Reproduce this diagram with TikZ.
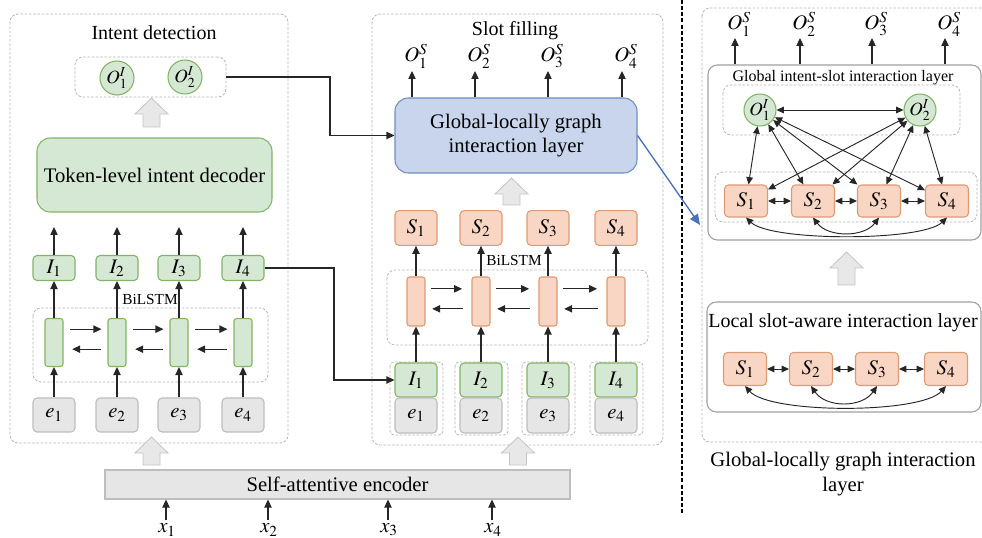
\documentclass[tikz,border=0pt]{standalone}
\usepackage{mathptmx}
\usepackage{fontspec}
\setmainfont{Liberation Serif}
\usetikzlibrary{arrows.meta,calc}

\definecolor{gfill}{HTML}{D5E8D4}
\definecolor{gline}{HTML}{82B366}
\definecolor{ofill}{HTML}{F8D6C3}
\definecolor{oline}{HTML}{DE9A74}
\definecolor{efill}{HTML}{E6E6E6}
\definecolor{eline}{HTML}{BDBDBD}
\definecolor{bfill}{HTML}{C8D5EC}
\definecolor{bline}{HTML}{6C8EBF}
\definecolor{dline}{HTML}{B5B5B5}
\definecolor{fatfill}{HTML}{E8E8E8}
\definecolor{fatline}{HTML}{C4C4C4}
\definecolor{boxline}{HTML}{A0A0A0}
\definecolor{linkblue}{HTML}{4A72B8}

% wide grey "flow" arrow pointing up: centre x, tip y, base y
\newcommand\fatarrow[3]{%
  \filldraw[fatarrow] (#1,#2) -- (#1+16.5,#2+16) -- (#1+8.5,#2+16) -- (#1+8.5,#3)
    -- (#1-8.5,#3) -- (#1-8.5,#2+16) -- (#1-16.5,#2+16) -- cycle;}

\begin{document}
\begin{tikzpicture}[x=0.75pt,y=-0.75pt,
  txt/.style={font=\fontsize{15.5}{18.5}\selectfont},
  ttl/.style={font=\fontsize{15}{17}\selectfont},
  small/.style={font=\fontsize{11.5}{13}\selectfont},
  mlab/.style={font=\fontsize{15.5}{17}\selectfont},
  gbox/.style={draw=gline, fill=gfill, rounded corners=3pt, line width=0.8pt,
    inner sep=0pt, font=\fontsize{15.5}{17}\selectfont},
  sbox/.style={draw=oline, fill=ofill, rounded corners=3pt, line width=0.8pt,
    inner sep=0pt, font=\fontsize{15.5}{17}\selectfont},
  ebox/.style={draw=eline, fill=efill, rounded corners=3pt, line width=0.8pt,
    inner sep=0pt, font=\fontsize{15.5}{17}\selectfont},
  gcell/.style={gbox, rounded corners=2pt, minimum width=13.5pt, minimum height=36pt},
  ocell/.style={sbox, rounded corners=2pt, minimum width=13.5pt, minimum height=36.75pt},
  gcirc/.style={circle, draw=gline, fill=gfill, line width=0.8pt, inner sep=0pt,
    minimum size=25.5pt, font=\fontsize{14}{16}\selectfont},
  dbox/.style={draw=dline, dash pattern=on 2pt off 1.2pt, rounded corners=6pt, line width=0.6pt},
  graybox/.style={draw=boxline, rounded corners=7pt, line width=0.8pt, inner sep=0pt},
  fatarrow/.style={fill=fatfill, draw=fatline, line width=0.6pt},
  arr/.style={-{Triangle[length=6pt,width=5.5pt]}, line width=0.8pt, draw=black!85},
  darr/.style={{Triangle[length=5.5pt,width=5pt]}-{Triangle[length=5.5pt,width=5pt]},
    line width=0.7pt, draw=black!85},
]
\clip (0,0) rectangle (982,538);

% ---------------- Intent detection ----------------
\draw[dbox] (10,14) rectangle (288,443);
\node[ttl] (tid) at (154,33) {Intent detection};
\node[dbox, minimum width=113.25pt, minimum height=30pt] (oibox) at (150.5,77) {};
\node[gcirc] (oi1) at (117,78) {$O^I_1$};
\node[gcirc] (oi2) at (185,77) {$O^I_2$};
\fatarrow{151.5}{98}{127}
\node[gbox, rounded corners=10pt, minimum width=176.25pt, minimum height=55.5pt, txt]
  (dec) at (154.5,175) {Token-level intent decoder};
\draw[dbox] (33,308) rectangle (268,382);
\node[small] (lbil) at (150,299) {BiLSTM};
\foreach \i/\x in {1/54,2/117,3/179,4/243}{
  \coordinate (lu\i) at (\x,227);
  \node[gbox, minimum width=31.5pt, minimum height=18.75pt] (li\i) at (\x,268) {$I_\i$};
  \node[gcell] (lc\i) at (\x,342.5) {};
  \node[ebox, minimum width=31.5pt, minimum height=25.5pt] (le\i) at (\x,415) {$e_\i$};
  \draw[arr] (li\i) -- (lu\i);
  \draw[arr] (lc\i) -- (li\i);
  \draw[arr] (le\i) -- (lc\i);
}
\foreach \a/\b in {1/2,2/3,3/4}{
  \draw[arr, shorten <=5pt, shorten >=4.5pt] ([yshift=10pt]lc\a.east) -- ([yshift=10pt]lc\b.west);
  \draw[arr, shorten <=4.5pt, shorten >=6.5pt] ([yshift=-5pt]lc\b.west) -- ([yshift=-5pt]lc\a.east);
}

% ---------------- Slot filling ----------------
\draw[dbox] (372,14) rectangle (663,445);
\node[ttl] (tsf) at (515,31) {Slot filling};
\node[draw=bline, fill=bfill, rounded corners=10pt, line width=0.8pt, txt, align=center,
  minimum width=181.5pt, minimum height=56.25pt] (glb) at (516,135.5)
  {Global-locally graph\\interaction layer};
\foreach \i/\x in {1/412,2/475,3/548,4/622}{
  \coordinate (mt\i) at (\x,71);
  \node[mlab] (mo\i) at (\x+4,56) {$O^S_\i$};
  \draw[arr] (glb.north -| mt\i) -- (mt\i);
}
\fatarrow{511.5}{178}{205}
\draw[dbox] (387,270) rectangle (648,345);
\node[small] (mbil) at (514,260) {BiLSTM};
\foreach \i/\x in {1/416,2/481,3/548,4/616}{
  \node[sbox, minimum width=31.5pt, minimum height=26pt] (ms\i) at (\x,228) {$S_\i$};
  \node[ocell] (mc\i) at (\x,301.5) {};
  \draw[dbox, rounded corners=3pt] (\x-26,362) rectangle (\x+27,435);
  \node[gbox, minimum width=31.5pt, minimum height=25.5pt] (mi\i) at (\x,380) {$I_\i$};
  \node[ebox, minimum width=31.5pt, minimum height=26.25pt] (me\i) at (\x,415.5) {$e_\i$};
  \draw[arr] (mi\i) -- (mc\i);
  \draw[arr] (mc\i) -- (ms\i);
}
\foreach \a/\b in {1/2,2/3,3/4}{
  \draw[arr, shorten <=4pt, shorten >=7pt] ([yshift=9.5pt]mc\a.east) -- ([yshift=9.5pt]mc\b.west);
  \draw[arr, shorten <=6.5pt, shorten >=5pt] ([yshift=-5.5pt]mc\b.west) -- ([yshift=-5.5pt]mc\a.east);
}

% ---------------- cross-panel links ----------------
\coordinate (bendA) at (330,0);
\coordinate (bendB) at (334,0);
\draw[arr] (oibox.east) -| (bendA |- glb.west) -- (glb.west);
\draw[arr] (li4.east) -| (bendB |- mi1.west) -- (mi1.west);

% ---------------- encoder ----------------
\fatarrow{151.5}{437}{465}
\fatarrow{518}{437}{465}
\node[draw=eline, fill=efill, line width=0.8pt, txt, minimum width=348.75pt,
  minimum height=21.75pt] (enc) at (337.5,484.5) {Self-attentive encoder};
\foreach \i/\x in {1/166,2/268,3/388,4/492}{
  \coordinate (xb\i) at (\x,520);
  \node[mlab] (xl\i) at (\x+1,530) {$x_\i$};
  \draw[arr] (xb\i) -- (enc.south -| xb\i);
}

% ---------------- separator ----------------
\coordinate (sepT) at (682,0);
\coordinate (sepB) at (682,515);
\draw[black, line width=1.3pt, dash pattern=on 3pt off 1.6pt] (sepT) -- (sepB);
\coordinate (gtip) at (700,225);
\draw[-{Triangle[length=8pt,width=7pt]}, draw=linkblue, fill=linkblue, line width=1pt] (glb.east) -- (gtip);

% ---------------- Global-locally graph interaction layer ----------------
\draw[dbox] (702,8) rectangle (1010,442);
\node[graybox, minimum width=204.75pt, minimum height=131.25pt] (gil) at (844.5,152.5) {};
\node[font=\fontsize{12}{14}\selectfont] (gilt) at (843,78) {Global intent-slot interaction layer};
\foreach \i/\x in {1/735,2/800,3/872,4/945}{
  \coordinate (rt\i) at (\x,38);
  \node[mlab] (ro\i) at (\x+4,24) {$O^S_\i$};
  \draw[arr] (gil.north -| rt\i) -- (rt\i);
}
\draw[dbox] (723,85) rectangle (960,135);
\draw[dbox] (715,172) rectangle (977,222);
\node[gcirc, minimum size=24pt] (g1) at (760,110) {$O^I_1$};
\node[gcirc, minimum size=24pt] (g2) at (920,110) {$O^I_2$};
\foreach \i/\x in {1/746,2/813,3/879,4/947}{
  \node[sbox, minimum width=32.25pt, minimum height=24pt] (gs\i) at (\x,201) {$S_\i$};
}
\draw[darr] (g1) -- (g2);
\foreach \i in {1,2,3,4}{
  \draw[darr] (g1) -- (gs\i);
  \draw[darr] (g2) -- (gs\i);
}
\foreach \a/\b in {1/2,2/3,3/4}{ \draw[darr] (gs\a) -- (gs\b); }
\draw[darr] (gs1.south) .. controls ($(gs1.south)+(25,24)$) and ($(gs4.south)+(-25,24)$) .. (gs4.south);
\draw[darr] (gs2.south) .. controls ($(gs2.south)+(15,20)$) and ($(gs3.south)+(-15,20)$) .. (gs3.south);

\fatarrow{846.5}{252}{285}
\node[graybox, minimum width=205.5pt, minimum height=82.5pt] (lsa) at (844,357) {};
\node[ttl] (lsat) at (843,323) {Local slot-aware interaction layer};
\foreach \i/\x in {1/745,2/811,3/877,4/946}{
  \node[sbox, minimum width=32.25pt, minimum height=24.75pt] (ls\i) at (\x,369) {$S_\i$};
}
\foreach \a/\b in {1/2,2/3,3/4}{ \draw[darr] (ls\a) -- (ls\b); }
\draw[darr] (ls1.south) .. controls ($(ls1.south)+(25,28)$) and ($(ls4.south)+(-25,28)$) .. (ls4.south);
\draw[darr] (ls2.south) .. controls ($(ls2.south)+(15,22)$) and ($(ls3.south)+(-15,22)$) .. (ls3.south);

\node[font=\fontsize{15.5}{18.75}\selectfont, align=center] (cap) at (843,474)
  {Global-locally graph interaction\\layer};
\end{tikzpicture}
\end{document}
